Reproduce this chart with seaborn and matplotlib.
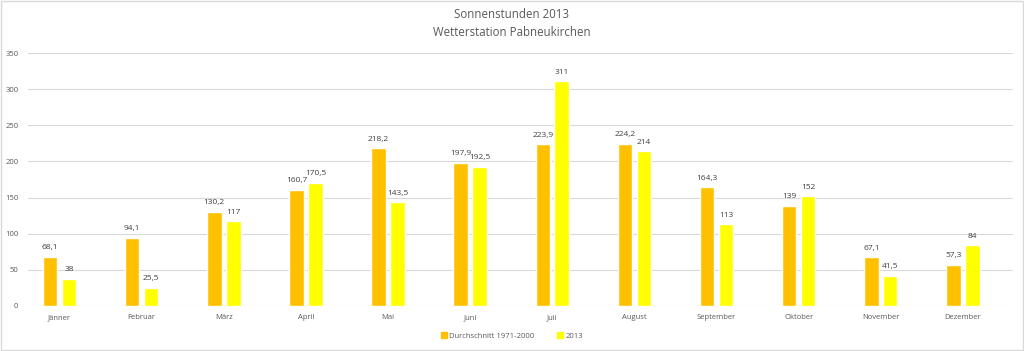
import pandas as pd
import matplotlib.pyplot as plt
import seaborn as sns
from matplotlib.patches import Rectangle

# Sonnenstunden per Monat
monate = ['Jänner', 'Februar', 'März', 'April', 'Mai', 'Juni', 'Juli',
          'August', 'September', 'Oktober', 'November', 'Dezember']
durchschnitt = [68.1, 94.1, 130.2, 160.7, 218.2, 197.9, 223.9, 224.2, 164.3, 139, 67.1, 57.3]
jahr_2013 = [38, 25.5, 117, 170.5, 143.5, 192.5, 311, 214, 113, 152, 41.5, 84]
serien = ['Durchschnitt 1971-2000', '2013']

data = pd.DataFrame({
    'Monat': monate * 2,
    'Stunden': durchschnitt + jahr_2013,
    'Serie': [serien[0]] * 12 + [serien[1]] * 12,
})

sns.set_style('white')
plt.rcParams['font.family'] = ['Open Sans', 'DejaVu Sans']

fig = plt.figure(figsize=(10.24, 3.51), dpi=100)
ax = fig.add_axes([28 / 1024, 45 / 351, 985 / 1024, 253 / 351])

sns.barplot(data=data, x='Monat', y='Stunden', hue='Serie', order=monate,
            hue_order=serien, palette=['#FFC000', '#FFFF00'],
            width=0.46, gap=0.23, saturation=1, ax=ax)

def fmt(v):
    s = f'{v:.1f}'.replace('.', ',')
    return s[:-2] if s.endswith(',0') else s

for cont in ax.containers:
    ax.bar_label(cont, labels=[fmt(b.get_height()) for b in cont],
                 padding=4, fontsize=6, color='#404040')

ax.set_ylim(0, 350)
ax.set_yticks(range(0, 351, 50))
ax.set_xlim(-0.384, 11.61)
ax.grid(axis='y', color='#D9D9D9', linewidth=0.8)
ax.set_axisbelow(True)
for sp in ax.spines.values():
    sp.set_visible(False)
ax.tick_params(axis='both', labelsize=5.5, colors='#595959', length=0)
ax.tick_params(axis='x', pad=6)
ax.tick_params(axis='y', pad=7)
ax.set_xlabel('')
ax.set_ylabel('')

ax.legend_.remove()
handles = [Rectangle((0, 0), 1, 1, color=c) for c in ['#FFC000', '#FFFF00']]
fig.legend(handles, serien, loc='center', bbox_to_anchor=(0.5, 1 - 336 / 351),
           ncol=2, frameon=False, fontsize=5.5, handlelength=0.8, handleheight=0.8,
           handletextpad=0.3, columnspacing=3, labelcolor='#595959')

fig.text(0.5, 1 - 15 / 351, 'Sonnenstunden 2013', ha='center', va='center',
         fontsize=8.3, color='#595959')
fig.text(0.5, 1 - 33 / 351, 'Wetterstation Pabneukirchen', ha='center', va='center',
         fontsize=8.3, color='#595959')

fig.patches.append(Rectangle((0.001, 0.002), 0.998, 0.996, transform=fig.transFigure,
                             fill=False, edgecolor='#D9D9D9', linewidth=1))

fig.savefig('out.png', dpi=100)
